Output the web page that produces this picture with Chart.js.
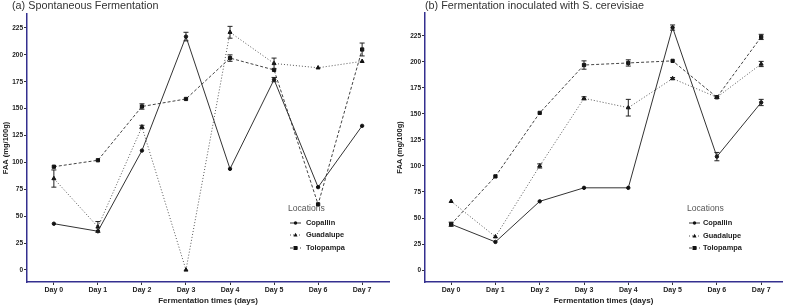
<!DOCTYPE html>
<html>
<head>
<meta charset="utf-8">
<script src="https://cdn.jsdelivr.net/npm/chart.js@4/dist/chart.umd.min.js"></script>
<style>
html,body{margin:0;padding:0;background:#fff;}
#wrap{position:relative;width:788px;height:307px;overflow:hidden;}
#c1{position:absolute;left:0;top:0;}
#c2{position:absolute;left:394px;top:0;}
</style>
</head>
<body>
<div id="wrap">
<canvas id="c1" width="394" height="307"></canvas>
<canvas id="c2" width="394" height="307"></canvas>
</div>
<script>
// ---- data ----
const days = ['Day 0','Day 1','Day 2','Day 3','Day 4','Day 5','Day 6','Day 7'];
const locations = ['Copallin','Guadalupe','Tolopampa'];
const yTicks = [0,25,50,75,100,125,150,175,200,225];

// (a) Spontaneous Fermentation
const spontCopallin   = [43, 36, 111, 217, 94, 177, 77, 134];
const spontGuadalupe  = [85, 40, 133, 0, 221, 192, 188, 194];
const spontTolopampa  = [96, 102, 152, 159, 197, 186, 61, 205];
const spontCopallinErr  = [0, 0, 0, 4, 0, 2, 0, 0];
const spontGuadalupeErr = [8, 5, 1.5, 0, 5.5, 5, 0, 0];
const spontTolopampaErr = [0, 0, 2.5, 0, 3, 0, 0, 6];

// (b) Fermentation inoculated with S. cerevisiae
const inocCopallin   = [44, 27, 66, 79, 79, 233, 109, 161];
const inocGuadalupe  = [66, 32, 100, 165, 156, 184, 166, 198];
const inocTolopampa  = [44, 90, 151, 197, 199, 201, 166, 224];
const inocCopallinErr  = [0, 0, 0, 0, 0, 2.5, 4, 3];
const inocGuadalupeErr = [0, 0, 2, 1.5, 8, 1, 0, 2.5];
const inocTolopampaErr = [2, 0, 0, 4, 3, 0, 1, 2.5];

const FONT = "'Liberation Sans', Arial, sans-serif";
const AXIS = '#34308f';
const styles = [
  {dash: [], point: 'circle', r: 1.7, color: '#333'},
  {dash: [1, 2], point: 'triangle', r: 2.3, color: '#555'},
  {dash: [3, 2], point: 'rect', r: 2.3, color: '#444'}
];

const toXY = arr => arr.map((v, i) => ({x: i, y: v}));

function makeDatasets(vals, errs) {
  return vals.map((v, k) => ({
    label: locations[k],
    data: toXY(v),
    err: errs[k],
    borderColor: styles[k].color,
    backgroundColor: '#111',
    borderWidth: 1,
    borderDash: styles[k].dash,
    pointStyle: styles[k].point,
    pointRadius: styles[k].r,
    pointBorderColor: '#111',
    pointBackgroundColor: '#111',
    pointBorderWidth: 1,
    tension: 0,
    fill: false
  }));
}

const errorBars = {
  id: 'errorBars',
  afterDatasetsDraw(chart) {
    const ctx = chart.ctx, xs = chart.scales.x, ys = chart.scales.y;
    ctx.save();
    ctx.strokeStyle = '#222';
    ctx.lineWidth = 1;
    ctx.setLineDash([]);
    chart.data.datasets.forEach(ds => {
      ds.data.forEach((p, i) => {
        const e = ds.err[i];
        if (!e) return;
        const x = xs.getPixelForValue(p.x);
        const y1 = ys.getPixelForValue(p.y + e);
        const y2 = ys.getPixelForValue(p.y - e);
        ctx.beginPath();
        ctx.moveTo(x, y1); ctx.lineTo(x, y2);
        ctx.moveTo(x - 2.5, y1); ctx.lineTo(x + 2.5, y1);
        ctx.moveTo(x - 2.5, y2); ctx.lineTo(x + 2.5, y2);
        ctx.stroke();
      });
    });
    ctx.restore();
  }
};

const decor = {
  id: 'decor',
  afterDraw(chart, args, opts) {
    const ctx = chart.ctx;
    ctx.save();
    // panel title
    ctx.fillStyle = '#333';
    ctx.font = '10.8px ' + FONT;
    ctx.textBaseline = 'alphabetic';
    ctx.textAlign = 'left';
    ctx.fillText(opts.title, opts.titleX, 8.5);
    // legend
    ctx.textBaseline = 'middle';
    ctx.fillStyle = '#555';
    ctx.font = '8.6px ' + FONT;
    ctx.fillText('Locations', opts.legX, opts.legY);
    chart.data.datasets.forEach((ds, k) => {
      const y = opts.itemY[k];
      const x0 = opts.lineX, x1 = opts.lineX + 11;
      ctx.strokeStyle = styles[k].color;
      ctx.lineWidth = 1;
      ctx.setLineDash(styles[k].dash);
      ctx.beginPath(); ctx.moveTo(x0, y); ctx.lineTo(x1, y); ctx.stroke();
      ctx.setLineDash([]);
      ctx.fillStyle = '#111';
      const cx = (x0 + x1) / 2;
      ctx.beginPath();
      if (styles[k].point === 'circle') { ctx.arc(cx, y, 1.7, 0, Math.PI * 2); }
      else if (styles[k].point === 'triangle') { ctx.moveTo(cx, y - 2.2); ctx.lineTo(cx + 2, y + 1.4); ctx.lineTo(cx - 2, y + 1.4); ctx.closePath(); }
      else { ctx.rect(cx - 2, y - 2, 4, 4); }
      ctx.fill();
      ctx.fillStyle = '#222';
      ctx.font = 'bold 7.4px ' + FONT;
      ctx.fillText(ds.label, opts.textX, y);
    });
    ctx.restore();
  }
};

function makeChart(id, vals, errs, cfg) {
  return new Chart(document.getElementById(id), {
    type: 'line',
    data: { datasets: makeDatasets(vals, errs) },
    plugins: [errorBars, decor],
    options: {
      responsive: false,
      animation: false,
      layout: { padding: { top: cfg.padTop, right: cfg.padRight, left: 0, bottom: 0 } },
      plugins: {
        legend: { display: false },
        tooltip: { enabled: false },
        decor: cfg.decor
      },
      scales: {
        x: {
          type: 'linear',
          min: cfg.xMin, max: cfg.xMax,
          afterBuildTicks: s => { s.ticks = days.map((d, i) => ({value: i})); },
          afterFit: s => { s.height = 25; },
          ticks: {
            callback: v => days[v],
            font: { family: FONT, size: 7, weight: 'bold' },
            color: '#222', padding: 1, maxRotation: 0, autoSkip: false
          },
          grid: { drawOnChartArea: false, drawTicks: true, tickLength: 3, color: '#333' },
          border: { color: AXIS, width: 1.5 },
          title: { display: true, text: 'Fermentation times (days)', font: { family: FONT, size: 8, weight: 'bold' }, color: '#222', padding: { top: 0, bottom: 1 } }
        },
        y: {
          type: 'linear',
          min: cfg.yMin, max: cfg.yMax,
          afterBuildTicks: s => { s.ticks = yTicks.map(v => ({value: v})); },
          afterFit: s => { s.width = cfg.yWidth; },
          ticks: {
            font: { family: FONT, size: 6.5, weight: 'bold' },
            color: '#222', padding: 1, autoSkip: false
          },
          grid: { drawOnChartArea: false, drawTicks: true, tickLength: 3, color: '#333' },
          border: { color: AXIS, width: 1.5 },
          title: { display: true, text: 'FAA (mg/100g)', font: { family: FONT, size: 7.5, weight: 'bold' }, color: '#222', padding: { top: 1, bottom: 0 } }
        }
      }
    }
  });
}

makeChart('c1',
  [spontCopallin, spontGuadalupe, spontTolopampa],
  [spontCopallinErr, spontGuadalupeErr, spontTolopampaErr],
  { padTop: 14, padRight: 4, xMin: -0.61, xMax: 7.61, yMin: -11.2, yMax: 238, yWidth: 27,
    decor: { title: '(a) Spontaneous Fermentation', titleX: 12, legX: 288, legY: 209, itemY: [223, 235, 248], lineX: 290, textX: 306 } });

makeChart('c2',
  [inocCopallin, inocGuadalupe, inocTolopampa],
  [inocCopallinErr, inocGuadalupeErr, inocTolopampaErr],
  { padTop: 13, padRight: 6, xMin: -0.59, xMax: 7.47, yMin: -11.5, yMax: 247, yWidth: 31,
    decor: { title: '(b) Fermentation inoculated with S. cerevisiae', titleX: 31, legX: 293, legY: 209, itemY: [223, 236, 248], lineX: 295, textX: 309 } });
</script>
</body>
</html>
